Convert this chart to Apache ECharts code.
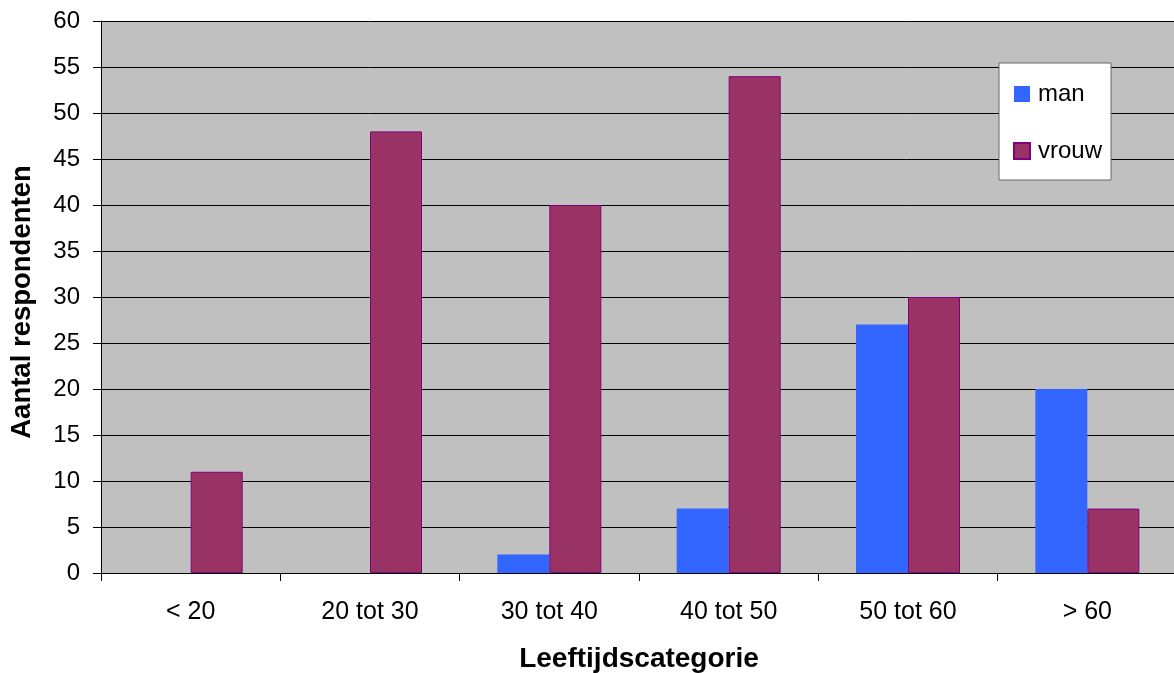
<!DOCTYPE html>
<html>
<head>
<meta charset="utf-8">
<script src="https://cdn.jsdelivr.net/npm/echarts@6/dist/echarts.min.js"></script>
<style>
html,body{margin:0;padding:0;background:#fff;overflow:hidden;}
#chart{width:1174px;height:673px;}
</style>
</head>
<body>
<div id="chart"></div>
<script>
const categories = ['< 20', '20 tot 30', '30 tot 40', '40 tot 50', '50 tot 60', '> 60'];
const manValues = [0, 0, 2, 7, 27, 20];
const vrouwValues = [11, 48, 40, 54, 30, 7];
const yAxisTitle = 'Aantal respondenten';
const xAxisTitle = 'Leeftijdscategorie';

const el = document.getElementById('chart');
const chart = echarts.init(el, null, {renderer: 'canvas'});
const font = 'Arial, "Liberation Sans", sans-serif';
chart.setOption({
  animation: false,
  textStyle: {fontFamily: font},
  grid: {left: 101, right: -3, top: 21, bottom: 100, backgroundColor: '#C0C0C0', show: true, borderWidth: 0,
         containLabel: false, outerBoundsMode: 'none'},
  legend: {
    orient: 'vertical',
    left: 999, top: 63,
    backgroundColor: '#fff',
    borderColor: '#666', borderWidth: 1,
    padding: [19, 9, 17, 14],
    itemGap: 33,
    itemWidth: 16, itemHeight: 16,
    icon: 'rect',
    textStyle: {fontSize: 24, color: '#000', fontFamily: font, lineHeight: 24, padding: [0, 0, 0, 3]},
    data: ['man', 'vrouw']
  },
  xAxis: {
    type: 'category',
    data: categories,
    name: xAxisTitle,
    nameLocation: 'middle',
    nameGap: 72,
    nameTextStyle: {fontSize: 28, fontWeight: 'bold', color: '#000', fontFamily: font},
    axisLine: {lineStyle: {color: '#000', width: 1}},
    axisTick: {show: true, length: 8, lineStyle: {color: '#000'}},
    axisLabel: {fontSize: 25, color: '#000', margin: 27, fontFamily: font},
    splitLine: {show: false}
  },
  yAxis: {
    type: 'value',
    min: 0, max: 60, interval: 5,
    name: yAxisTitle,
    nameLocation: 'middle',
    nameGap: 65,
    nameRotate: 90,
    nameTextStyle: {fontSize: 27.5, fontWeight: 'bold', color: '#000', fontFamily: font, padding: [0, 10, 0, 0]},
    axisLine: {show: true, lineStyle: {color: '#000', width: 1}},
    axisTick: {show: true, length: 8, lineStyle: {color: '#000'}},
    axisLabel: {fontSize: 24, color: '#000', margin: 21, fontFamily: font},
    splitLine: {show: true, lineStyle: {color: '#000', width: 1}}
  },
  series: [
    {
      name: 'man', type: 'bar', data: manValues,
      barGap: '0%', barCategoryGap: '42%',
      itemStyle: {color: '#3366FF', borderColor: '#3366FF', borderWidth: 0}
    },
    {
      name: 'vrouw', type: 'bar', data: vrouwValues,
      barGap: '0%', barCategoryGap: '42%',
      itemStyle: {color: '#993366', borderColor: '#800080', borderWidth: 1}
    }
  ]
});
</script>
</body>
</html>
